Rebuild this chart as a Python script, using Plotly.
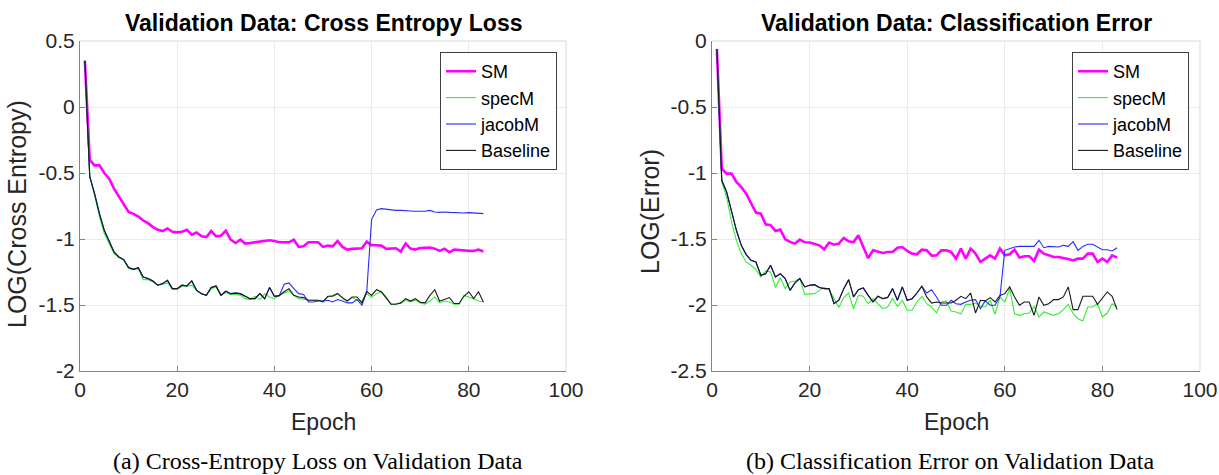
import plotly.graph_objects as go

epochs = list(range(1, 84))

# ---- Left: LOG(Cross Entropy) ----
ce_SM = [0.35, -0.40, -0.442, -0.442, -0.50, -0.543, -0.618, -0.68, -0.737, -0.795,
         -0.81, -0.83, -0.86, -0.88, -0.91, -0.93, -0.94, -0.92, -0.945, -0.95,
         -0.945, -0.93, -0.967, -0.95, -0.98, -0.985, -0.94, -0.98, -0.975, -0.937,
         -1.005, -1.03, -1.005, -1.035, -1.03, -1.025, -1.015, -1.01, -1.01, -1.015,
         -1.025, -1.025, -1.025, -1.005, -1.06, -1.055, -1.025, -1.025, -1.025, -1.06,
         -1.05, -1.055, -1.015, -1.06, -1.08, -1.075, -1.073, -1.07, -1.02, -1.047,
         -1.047, -1.05, -1.075, -1.073, -1.07, -1.095, -1.035, -1.073, -1.08, -1.068,
         -1.068, -1.065, -1.073, -1.09, -1.073, -1.10, -1.08, -1.085, -1.085, -1.09,
         -1.09, -1.08, -1.095]
ce_spec = [0.35, -0.525, -0.67, -0.83, -0.959, -1.035, -1.111, -1.141, -1.162, -1.225,
           -1.23, -1.225, -1.308, -1.308, -1.325, -1.35, -1.345, -1.333, -1.381, -1.381,
           -1.358, -1.358, -1.35, -1.389, -1.414, -1.427, -1.376, -1.363, -1.427, -1.406,
           -1.42, -1.419, -1.427, -1.452, -1.459, -1.434, -1.459, -1.414, -1.439, -1.452,
           -1.427, -1.41, -1.394, -1.427, -1.452, -1.457, -1.464, -1.464, -1.464, -1.47,
           -1.439, -1.427, -1.41, -1.452, -1.47, -1.444, -1.464, -1.47, -1.414, -1.444,
           -1.414, -1.40, -1.439, -1.494, -1.494, -1.489, -1.464, -1.477, -1.464, -1.484,
           -1.494, -1.47, -1.439, -1.484, -1.47, -1.477, -1.494, -1.494, -1.427, -1.439,
           -1.452, -1.47, -1.477]
ce_jacob = [0.35, -0.525, -0.657, -0.808, -0.934, -1.023, -1.098, -1.136, -1.156, -1.217,
            -1.23, -1.217, -1.288, -1.30, -1.318, -1.35, -1.338, -1.313, -1.376, -1.376,
            -1.35, -1.356, -1.318, -1.389, -1.414, -1.427, -1.368, -1.356, -1.427, -1.396,
            -1.414, -1.41, -1.414, -1.434, -1.452, -1.452, -1.414, -1.452, -1.368, -1.434,
            -1.429, -1.343, -1.333, -1.376, -1.414, -1.42, -1.477, -1.477, -1.47, -1.47,
            -1.464, -1.477, -1.459, -1.47, -1.484, -1.484, -1.459, -1.502, -1.40, -0.853,
            -0.78, -0.77, -0.775, -0.778, -0.783, -0.783, -0.788, -0.788, -0.79, -0.79,
            -0.79, -0.783, -0.795, -0.798, -0.795, -0.798, -0.80, -0.80, -0.803, -0.80,
            -0.803, -0.803, -0.808]
ce_base = [0.35, -0.525, -0.657, -0.808, -0.934, -1.023, -1.098, -1.136, -1.156, -1.217,
           -1.23, -1.217, -1.288, -1.30, -1.318, -1.35, -1.338, -1.313, -1.376, -1.376,
           -1.35, -1.356, -1.318, -1.389, -1.414, -1.427, -1.368, -1.356, -1.427, -1.396,
           -1.414, -1.41, -1.414, -1.434, -1.452, -1.452, -1.414, -1.452, -1.368, -1.434,
           -1.429, -1.40, -1.376, -1.427, -1.439, -1.444, -1.464, -1.464, -1.464, -1.477,
           -1.434, -1.434, -1.414, -1.444, -1.47, -1.439, -1.439, -1.484, -1.397, -1.427,
           -1.384, -1.40, -1.444, -1.494, -1.494, -1.484, -1.452, -1.47, -1.452, -1.479,
           -1.484, -1.427, -1.384, -1.47, -1.459, -1.444, -1.489, -1.489, -1.434, -1.40,
           -1.452, -1.40, -1.477]

# ---- Right: LOG(Error) ----
er_SM = [-0.06, -0.967, -1.005, -1.005, -1.068, -1.106, -1.157, -1.227, -1.30, -1.308,
         -1.389, -1.396, -1.439, -1.429, -1.502, -1.522, -1.535, -1.505, -1.525, -1.527,
         -1.535, -1.548, -1.578, -1.527, -1.543, -1.535, -1.492, -1.517, -1.525, -1.472,
         -1.56, -1.645, -1.585, -1.595, -1.606, -1.598, -1.598, -1.566, -1.561, -1.591,
         -1.611, -1.616, -1.581, -1.586, -1.626, -1.624, -1.586, -1.586, -1.598, -1.649,
         -1.573, -1.649, -1.573, -1.611, -1.674, -1.649, -1.624, -1.649, -1.573, -1.624,
         -1.616, -1.581, -1.641, -1.631, -1.631, -1.667, -1.581, -1.611, -1.626, -1.636,
         -1.636, -1.641, -1.651, -1.662, -1.649, -1.649, -1.611, -1.611, -1.674, -1.649,
         -1.674, -1.624, -1.641]
er_spec = [-0.06, -1.068, -1.182, -1.371, -1.51, -1.611, -1.674, -1.699, -1.732, -1.788,
           -1.742, -1.75, -1.868, -1.793, -1.876, -1.826, -1.818, -1.80, -1.919, -1.919,
           -1.914, -1.889, -1.868, -1.884, -1.952, -2.018, -1.944, -1.909, -2.03, -1.927,
           -1.934, -1.99, -1.952, -1.99, -2.028, -2.015, -1.952, -2.01, -1.964, -2.04,
           -2.04, -1.977, -1.934, -1.99, -2.015, -2.061, -1.977, -1.969, -2.045, -2.053,
           -2.066, -1.995, -1.995, -1.985, -2.01, -2.015, -1.964, -2.07, -1.939, -1.977,
           -1.876, -2.066, -2.078, -2.066, -2.061, -2.01, -2.091, -2.053, -2.066, -2.078,
           -2.066, -2.035, -1.995, -2.066, -2.104, -2.121, -2.015, -2.015, -1.99, -2.091,
           -2.061, -1.99, -2.015]
er_jacob = [-0.06, -1.055, -1.144, -1.283, -1.434, -1.548, -1.618, -1.662, -1.674, -1.775,
            -1.763, -1.699, -1.788, -1.763, -1.80, -1.889, -1.833, -1.80, -1.863, -1.851,
            -1.846, -1.868, -1.876, -1.876, -1.99, -1.964, -1.876, -1.808, -1.939, -1.884,
            -1.87, -1.927, -1.977, -1.934, -1.952, -1.944, -1.876, -1.964, -1.863, -1.964,
            -1.952, -1.909, -1.858, -1.909, -1.884, -1.939, -2.002, -2.002, -1.964, -1.99,
            -1.995, -1.977, -1.964, -1.959, -2.028, -1.969, -2.002, -2.002, -1.939, -1.586,
            -1.573, -1.561, -1.556, -1.556, -1.556, -1.556, -1.51, -1.566, -1.556, -1.561,
            -1.561, -1.548, -1.556, -1.52, -1.586, -1.556, -1.54, -1.54, -1.561, -1.581,
            -1.581, -1.591, -1.566]
er_base = [-0.06, -1.055, -1.144, -1.283, -1.434, -1.548, -1.618, -1.662, -1.674, -1.775,
           -1.763, -1.699, -1.788, -1.763, -1.80, -1.889, -1.833, -1.80, -1.863, -1.851,
           -1.846, -1.868, -1.876, -1.876, -1.99, -1.964, -1.876, -1.808, -1.939, -1.884,
           -1.87, -1.927, -1.977, -1.934, -1.952, -1.944, -1.876, -1.964, -1.863, -1.964,
           -1.952, -1.909, -1.858, -1.939, -1.985, -1.977, -1.985, -1.985, -1.985, -1.964,
           -1.934, -1.952, -1.909, -2.061, -1.964, -1.969, -1.944, -1.977, -1.927, -1.914,
           -1.863, -1.939, -2.002, -1.977, -1.977, -2.078, -1.939, -2.002, -1.99, -1.959,
           -1.959, -1.939, -1.863, -2.035, -2.035, -1.934, -1.934, -1.934, -1.995, -1.952,
           -1.901, -1.934, -2.035]

series_names = ["SM", "specM", "jacobM", "Baseline"]
series_colors = ["#ff00ff", "#33ee33", "#2a2aff", "#1a1a1a"]
series_widths = [2.6, 1.1, 1.1, 1.1]

x_ticks = [0, 20, 40, 60, 80, 100]
x_ticktext = ["0", "20", "40", "60", "80", "100"]
y1_ticks = [0.5, 0, -0.5, -1, -1.5, -2]
y1_ticktext = ["0.5", "0", "-0.5", "-1", "-1.5", "-2"]
y2_ticks = [0, -0.5, -1, -1.5, -2, -2.5]
y2_ticktext = ["0", "-0.5", "-1", "-1.5", "-2", "-2.5"]

titles = ["<b>Validation Data: Cross Entropy Loss</b>", "<b>Validation Data: Classification Error</b>"]
ylabels = ["LOG(Cross Entropy)", "LOG(Error)"]
captions = ["(a) Cross-Entropy Loss on Validation Data", "(b) Classification Error on Validation Data"]

W, H = 1219, 475
FONT = "Liberation Sans, Arial, Helvetica, sans-serif"

fig = go.Figure()
left = [ce_SM, ce_spec, ce_jacob, ce_base]
right = [er_SM, er_spec, er_jacob, er_base]
for i, name in enumerate(series_names):
    fig.add_trace(go.Scatter(x=epochs, y=left[i], mode="lines", name=name,
                             line=dict(color=series_colors[i], width=series_widths[i]),
                             xaxis="x", yaxis="y", legend="legend"))
for i, name in enumerate(series_names):
    fig.add_trace(go.Scatter(x=epochs, y=right[i], mode="lines", name=name,
                             line=dict(color=series_colors[i], width=series_widths[i]),
                             xaxis="x2", yaxis="y2", legend="legend2"))

px = lambda p: p / W
py = lambda p: 1 - p / H

dom_x1 = [px(80), px(566)]
dom_x2 = [px(712), px(1200)]
dom_y = [py(371), py(41)]

axis_common = dict(showgrid=True, gridcolor="#ebebeb", gridwidth=1, showline=True,
                   linecolor="#858585", linewidth=1, ticks="inside", ticklen=5,
                   tickcolor="#858585", zeroline=False, automargin=False,
                   tickfont=dict(family=FONT, size=21, color="#262626"))

legend_common = dict(xanchor="right", yanchor="top", bgcolor="white",
                     bordercolor="#404040", borderwidth=1,
                     font=dict(family=FONT, size=18, color="#000000"), itemwidth=30,
                     tracegroupgap=0)

fig.update_layout(
    width=W, height=H, margin=dict(l=0, r=0, t=0, b=0, pad=0, autoexpand=False),
    paper_bgcolor="white", plot_bgcolor="white",
    xaxis=dict(domain=dom_x1, range=[0, 100], tickvals=x_ticks, ticktext=x_ticktext,
               anchor="y", **axis_common),
    yaxis=dict(domain=dom_y, range=[-2, 0.5], tickvals=y1_ticks, ticktext=y1_ticktext,
               anchor="x", **axis_common),
    xaxis2=dict(domain=dom_x2, range=[0, 100], tickvals=x_ticks, ticktext=x_ticktext,
                anchor="y2", **axis_common),
    yaxis2=dict(domain=dom_y, range=[-2.5, 0], tickvals=y2_ticks, ticktext=y2_ticktext,
                anchor="x2", **axis_common),
    legend=dict(x=px(557), y=py(52), **legend_common),
    legend2=dict(x=px(1189), y=py(52), **legend_common),
    showlegend=True,
)

# light top/right box edges
for xr, yr in (("x domain", "y domain"), ("x2 domain", "y2 domain")):
    fig.add_shape(type="line", xref=xr, yref=yr, x0=0, x1=1, y0=1, y1=1,
                  line=dict(color="#d9d9d9", width=1), layer="below")
    fig.add_shape(type="line", xref=xr, yref=yr, x0=1, x1=1, y0=0, y1=1,
                  line=dict(color="#d9d9d9", width=1), layer="below")

centers = [px(323), px(956)]
for i in range(2):
    fig.add_annotation(text=titles[i], x=centers[i], y=py(23), xref="paper", yref="paper",
                       showarrow=False, xanchor="center", yanchor="middle",
                       font=dict(family=FONT, size=23, color="#000000"))
    fig.add_annotation(text="Epoch", x=centers[i], y=py(422), xref="paper", yref="paper",
                       showarrow=False, xanchor="center", yanchor="middle",
                       font=dict(family=FONT, size=23, color="#262626"))
    fig.add_annotation(text=captions[i], x=[px(318), px(950)][i], y=py(461),
                       xref="paper", yref="paper", showarrow=False,
                       xanchor="center", yanchor="middle",
                       font=dict(family="Liberation Serif, Times New Roman, serif", size=24,
                                 color="#000000"))
fig.add_annotation(text=ylabels[0], x=px(17), y=py(214), xref="paper", yref="paper",
                   showarrow=False, textangle=-90, xanchor="center", yanchor="middle",
                   font=dict(family=FONT, size=25, color="#262626"))
fig.add_annotation(text=ylabels[1], x=px(650), y=py(212), xref="paper", yref="paper",
                   showarrow=False, textangle=-90, xanchor="center", yanchor="middle",
                   font=dict(family=FONT, size=25, color="#262626"))

fig.write_html("out.html", post_script="document.body.style.margin='0';",
               config={"displayModeBar": False})
